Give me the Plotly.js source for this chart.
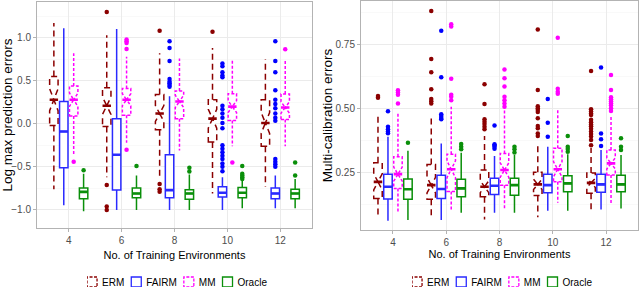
<!DOCTYPE html>
<html>
<head>
<meta charset="utf-8">
<script src="https://cdn.plot.ly/plotly-3.0.1.min.js"></script>
<style>
html,body{margin:0;padding:0;background:#fff;}
#left{position:absolute;left:0;top:0;width:320px;height:287px;}
#right{position:absolute;left:320px;top:0;width:320px;height:287px;}
</style>
</head>
<body>
<div id="left"></div>
<div id="right"></div>
<script>
// ---------- shared ----------
const categories = ['4', '6', '8', '10', '12'];
const methods = ['ERM', 'FAIRM', 'MM', 'Oracle'];
const sampleSize = 50; // per box, used for notch span like ggplot

// ---------- left panel: Log max prediction errors ----------
// (null = no outlier at that position)
const lmpERM_q1 = [-0.02, -0.03, -0.07, -0.21, -0.26];
const lmpERM_med = [0.28, 0.21, 0.12, 0.06, 0.01];
const lmpERM_q3 = [0.55, 0.42, 0.34, 0.28, 0.28];
const lmpERM_lo = [-0.76, -0.62, -0.63, -0.81, -0.73];
const lmpERM_hi = [1.17, 1.03, 0.82, 0.88, 0.75];
const lmpERM_out = [[null], [1.30, -0.71, -0.96, -1.0], [1.08, -0.70, -0.76, -0.79], [1.07], [null]];

const lmpFAIRM_q1 = [-0.51, -0.77, -0.86, -0.85, -0.87];
const lmpFAIRM_med = [-0.09, -0.36, -0.77, -0.80, -0.81];
const lmpFAIRM_q3 = [0.26, 0.06, -0.36, -0.73, -0.745];
const lmpFAIRM_lo = [-0.945, -1.0, -1.0, -1.0, -0.98];
const lmpFAIRM_hi = [1.11, 1.10, 0.32, -0.62, -0.60];
const lmpFAIRM_out = [[null], [null], [0.96, 0.88, 0.73, 0.52, 0.49, 0.47, 0.45, 0.43],
  [0.70, 0.67, 0.60, 0.56, 0.54, 0.21, 0.17, 0.12, 0.07, 0.01, -0.05, -0.25, -0.29, -0.33, -0.37, -0.41, -0.46, -0.50, -0.55],
  [0.96, 0.73, 0.60, 0.39, 0.28, 0.23, 0.18, 0.12, 0.07, 0.035, -0.41, -0.44, -0.47, -0.50]];

const lmpMM_q1 = [0.09, 0.10, 0.06, 0.04, 0.05];
const lmpMM_med = [0.28, 0.28, 0.26, 0.20, 0.19];
const lmpMM_q3 = [0.44, 0.41, 0.38, 0.35, 0.345];
const lmpMM_lo = [-0.36, -0.22, -0.31, -0.26, -0.26];
const lmpMM_hi = [0.82, 0.78, 0.76, 0.74, 0.74];
const lmpMM_out = [[-0.44], [0.98, 0.96, 0.94, 0.87, -0.30], [null], [-0.45], [0.865]];

const lmpOracle_q1 = [-0.87, -0.86, -0.875, -0.86, -0.87];
const lmpOracle_med = [-0.79, -0.81, -0.81, -0.80, -0.81];
const lmpOracle_q3 = [-0.745, -0.745, -0.765, -0.74, -0.76];
const lmpOracle_lo = [-1.015, -1.0, -1.0, -0.98, -0.98];
const lmpOracle_hi = [-0.58, -0.60, -0.59, -0.66, -0.64];
const lmpOracle_out = [[-0.54], [-0.49], [-0.51, -0.555], [-0.49, -0.58, -0.60, -0.62, -0.64], [-0.45, -0.60]];

// ---------- right panel: Multi-calibration errors ----------
const mcERM_q1 = [0.148, 0.145, 0.155, 0.16, 0.168];
const mcERM_med = [0.213, 0.20, 0.194, 0.203, 0.209];
const mcERM_q3 = [0.288, 0.281, 0.259, 0.25, 0.248];
const mcERM_lo = [0.083, 0.083, 0.066, 0.075, 0.105];
const mcERM_hi = [0.474, 0.474, 0.392, 0.363, 0.345];
const mcERM_out = [[0.548, 0.541], [0.880, 0.693, 0.641, 0.574, 0.536, 0.528, 0.519],
  [0.594, 0.517, 0.457, 0.448, 0.439, 0.428, 0.418],
  [0.808, 0.572, 0.508, 0.50, 0.493, 0.486, 0.461, 0.431, 0.422, 0.402, 0.392],
  [0.646, 0.496, 0.488, 0.48, 0.474, 0.455, 0.446, 0.437, 0.43, 0.42, 0.41, 0.40, 0.39, 0.376, 0.356]];

const mcFAIRM_q1 = [0.146, 0.148, 0.164, 0.17, 0.172];
const mcFAIRM_med = [0.194, 0.185, 0.198, 0.2, 0.203];
const mcFAIRM_q3 = [0.243, 0.239, 0.227, 0.243, 0.243];
const mcFAIRM_lo = [0.061, 0.064, 0.092, 0.1, 0.105];
const mcFAIRM_hi = [0.389, 0.363, 0.314, 0.35, 0.337];
const mcFAIRM_out = [[0.489, 0.428, 0.418, 0.41, 0.403], [0.803, 0.621, 0.477, 0.47, 0.462, 0.457],
  [0.433, 0.36, 0.355, 0.35, 0.342], [0.536, 0.444, 0.389], [0.659, 0.402, 0.379, 0.353]];

const mcMM_q1 = [0.1875, 0.175, 0.2, 0.213, 0.24];
const mcMM_med = [0.243, 0.262, 0.259, 0.262, 0.285];
const mcMM_q3 = [0.311, 0.321, 0.324, 0.344, 0.337];
const mcMM_lo = [0.09, 0.103, 0.109, 0.131, 0.13];
const mcMM_hi = [0.48, 0.506, 0.493, 0.493, 0.47];
const mcMM_out = [[0.571, 0.562, 0.553, 0.519], [0.828, 0.819, 0.615, 0.553, 0.545, 0.532],
  [0.652, 0.617, 0.585, 0.545, 0.532, 0.519, 0.506], [0.776, 0.576, 0.565, 0.557],
  [0.63, 0.572, 0.543, 0.535, 0.528, 0.52, 0.512, 0.50, 0.49]];

const mcOracle_q1 = [0.145, 0.155, 0.161, 0.174, 0.174];
const mcOracle_med = [0.184, 0.1875, 0.2, 0.207, 0.203];
const mcOracle_q3 = [0.224, 0.223, 0.227, 0.237, 0.239];
const mcOracle_lo = [0.064, 0.092, 0.092, 0.1, 0.109];
const mcOracle_hi = [0.334, 0.327, 0.318, 0.321, 0.318];
const mcOracle_out = [[0.366], [0.361, 0.35, 0.34], [0.35, 0.34, 0.328], [0.392, 0.35, 0.341, 0.33], [0.383, 0.35, 0.337]];

// ---------- styles ----------
const colors = {ERM: '#8B0000', FAIRM: '#2a2aff', MM: '#ff00ff', Oracle: '#0a8f0a'};
const pointColors = {ERM: '#8B0000', FAIRM: '#0000ff', MM: '#ff00ff', Oracle: '#0a8f0a'};
const notchedM = {ERM: true, FAIRM: false, MM: true, Oracle: false};
const dashes = {ERM: '6,4', MM: '3,2'};
const font = '"Liberation Sans", Arial, sans-serif';

function boxTrace(name, q1, med, q3, lo, hi, out) {
  const t = {
    type: 'box', name: name, x: categories, y: out,
    q1: q1, median: med, q3: q3, lowerfence: lo, upperfence: hi,
    boxpoints: 'outliers', jitter: 0, pointpos: 0,
    offsetgroup: name, alignmentgroup: 'all',
    fillcolor: 'white',
    line: {color: colors[name], width: 1.5},
    marker: {color: pointColors[name], size: 4.5, line: {width: 0}},
    whiskerwidth: 0,
    hoverinfo: 'skip'
  };
  if (notchedM[name]) {
    t.notched = true;
    t.notchwidth = 0.5;
    t.notchspan = q1.map((v, i) => 1.58 * (q3[i] - v) / Math.sqrt(sampleSize));
  }
  return t;
}

// thick median bar (ggplot fatten = 2), drawn at the same dodge slot as its box
function medianTrace(name, med) {
  return {
    type: 'box', name: name, x: categories,
    q1: med, median: med, q3: med, lowerfence: med, upperfence: med,
    boxpoints: false, offsetgroup: name, alignmentgroup: 'all',
    fillcolor: 'rgba(0,0,0,0)',
    line: {color: colors[name], width: 2.6},
    whiskerwidth: 0, showlegend: false, hoverinfo: 'skip'
  };
}

function layoutFor(yTitle, yRange, dtick, minorDtick, fmt, margin, ytitleSize, legY, xStandoff) {
  return {
    width: 320, height: 287,
    margin: margin,
    paper_bgcolor: 'white', plot_bgcolor: 'white',
    boxmode: 'group', boxgap: 0.25, boxgroupgap: 0.15,
    showlegend: true,
    legend: {orientation: 'h', x: 0.5, xanchor: 'center', y: legY, yanchor: 'middle',
      font: {family: font, size: 10, color: '#000'}, itemwidth: 30, tracegroupgap: 0,
      traceorder: 'normal', bgcolor: 'rgba(0,0,0,0)'},
    xaxis: {
      type: 'category', categoryorder: 'array', categoryarray: categories,
      range: [-0.6, 4.6], showgrid: true, gridcolor: '#ebebeb', gridwidth: 1,
      showline: true, mirror: true, linecolor: '#b3b3b3', linewidth: 1,
      ticks: 'outside', ticklen: 3, tickcolor: '#b3b3b3', tickwidth: 1,
      tickfont: {family: font, size: 10, color: '#4d4d4d'},
      title: {text: 'No. of Training Environments', font: {family: font, size: 11, color: '#000'}, standoff: xStandoff},
      zeroline: false, fixedrange: true, automargin: false
    },
    yaxis: {
      range: yRange, dtick: dtick, tick0: 0, tickformat: fmt,
      showgrid: true, gridcolor: '#ebebeb', gridwidth: 1,
      minor: {dtick: minorDtick, tick0: 0, showgrid: true, gridcolor: '#f5f5f5', gridwidth: 0.6, ticks: ''},
      showline: true, mirror: true, linecolor: '#b3b3b3', linewidth: 1,
      ticks: 'outside', ticklen: 3, tickcolor: '#b3b3b3', tickwidth: 1,
      tickfont: {family: font, size: 10, color: '#4d4d4d'},
      title: {text: yTitle, font: {family: font, size: ytitleSize, color: '#000'}, standoff: 4},
      zeroline: false, fixedrange: true, automargin: false
    }
  };
}

const leftData = [
  boxTrace('ERM', lmpERM_q1, lmpERM_med, lmpERM_q3, lmpERM_lo, lmpERM_hi, lmpERM_out),
  boxTrace('FAIRM', lmpFAIRM_q1, lmpFAIRM_med, lmpFAIRM_q3, lmpFAIRM_lo, lmpFAIRM_hi, lmpFAIRM_out),
  boxTrace('MM', lmpMM_q1, lmpMM_med, lmpMM_q3, lmpMM_lo, lmpMM_hi, lmpMM_out),
  boxTrace('Oracle', lmpOracle_q1, lmpOracle_med, lmpOracle_q3, lmpOracle_lo, lmpOracle_hi, lmpOracle_out),
  medianTrace('ERM', lmpERM_med), medianTrace('FAIRM', lmpFAIRM_med),
  medianTrace('MM', lmpMM_med), medianTrace('Oracle', lmpOracle_med)
];
const rightData = [
  boxTrace('ERM', mcERM_q1, mcERM_med, mcERM_q3, mcERM_lo, mcERM_hi, mcERM_out),
  boxTrace('FAIRM', mcFAIRM_q1, mcFAIRM_med, mcFAIRM_q3, mcFAIRM_lo, mcFAIRM_hi, mcFAIRM_out),
  boxTrace('MM', mcMM_q1, mcMM_med, mcMM_q3, mcMM_lo, mcMM_hi, mcMM_out),
  boxTrace('Oracle', mcOracle_q1, mcOracle_med, mcOracle_q3, mcOracle_lo, mcOracle_hi, mcOracle_out),
  medianTrace('ERM', mcERM_med), medianTrace('FAIRM', mcFAIRM_med),
  medianTrace('MM', mcMM_med), medianTrace('Oracle', mcOracle_med)
];

const leftLayout = layoutFor('Log max prediction errors', [-1.21, 1.415], 0.5, 0.25, '.1f',
  {l: 37, r: 8, t: 2, b: 59, pad: 0, autoexpand: false}, 13.5, -0.239, 6);
const rightLayout = layoutFor('Multi-calibration errors', [0.025, 0.919], 0.25, 0.125, '.2f',
  {l: 41, r: 2, t: 1, b: 57, pad: 0, autoexpand: false}, 13.5, -0.227, 2);

function parseT(s) {
  const m = /translate\(\s*([-\d.e]+)[ ,]+([-\d.e]+)\s*\)/.exec(s || '');
  return m ? [parseFloat(m[1]), parseFloat(m[2])] : [0, 0];
}

function finish(div, centerX) {
  // dashed outlines for ERM and MM boxes (first four traces are the boxes)
  const groups = div.querySelectorAll('.boxlayer .trace');
  groups.forEach((g, i) => {
    if (i > 3) return;
    const d = dashes[methods[i]];
    if (d) g.querySelectorAll('path.box').forEach(p => { p.style.strokeDasharray = d; });
  });
  // compact legend like ggplot's
  const items = Array.from(div.querySelectorAll('.legend .traces'));
  let x = 0;
  items.forEach((g, i) => {
    const t = g.querySelector('text.legendtext');
    t.setAttribute('x', 15);
    const icon = g.querySelector('.legendpoints path');
    if (icon) {
      icon.setAttribute('transform', 'translate(5,0)');
      icon.setAttribute('d', 'M5,5H-5V-5H5Z');
      icon.style.strokeWidth = '1.3px';
      if (dashes[methods[i]]) icon.style.strokeDasharray = '3,1.5';
    }
    const w = t.getComputedTextLength();
    const y = parseT(g.getAttribute('transform'))[1];
    g.setAttribute('transform', 'translate(' + x + ',' + y + ')');
    x += 15 + w + 7;
  });
  const total = x - 7;
  const leg = div.querySelector('g.legend');
  if (leg) {
    const ly = parseT(leg.getAttribute('transform'))[1];
    leg.setAttribute('transform', 'translate(' + (centerX - total / 2) + ',' + ly + ')');
  }
}

const cfg = {staticPlot: true, displayModeBar: false};
Plotly.newPlot('left', leftData, leftLayout, cfg).then(d => finish(d, 177));
Plotly.newPlot('right', rightData, rightLayout, cfg).then(d => finish(d, 182));
</script>
</body>
</html>
